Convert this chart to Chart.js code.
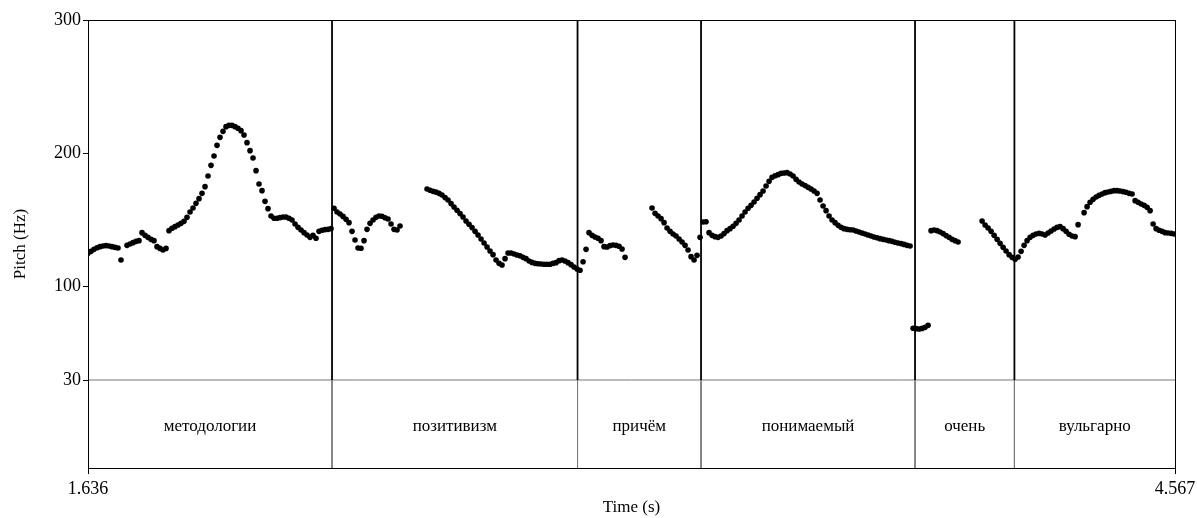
<!DOCTYPE html>
<html>
<head>
<meta charset="utf-8">
<script src="https://cdn.jsdelivr.net/npm/chart.js@4/dist/chart.umd.min.js"></script>
<style>
html,body{margin:0;padding:0;background:#fff;}
#wrap{width:1197px;height:518px;}
</style>
</head>
<body>
<div id="wrap"><canvas id="c" width="1197" height="518"></canvas></div>
<script>
// ---- data ----
const timeMin = 1.636;
const timeMax = 4.567;
const frameStart = 1.636;
const frameStep = 0.00809;
const pitchHz = [
  125,126.5,128,129.2,130,130.5,130.8,130.5,130,129.5,
  129,120,null,131,132,133,134,134.5,140.5,138.5,
  137,135.5,134.5,130,128.7,127.5,128.7,142,143.8,145,
  146.3,147.5,149,152,156,159,162.5,166,170,175,
  183,191,198,206,212,216.5,220,221,221,220,
  218.8,217,213.8,208,202,196.5,187,177,172,164,
  158.5,153,151.3,151.3,151.8,152.3,152.3,151.3,150,147,
  144.5,142.5,140.5,138.7,137,138.5,136.3,141.5,142.3,142.8,
  143,143.5,158.8,156,154.5,152.7,150.5,148,141.5,135,
  129,128.8,134.5,143,147.5,150,152,153,152.8,151.7,
  150.7,147,143,142.5,145.5,null,null,null,null,null,
  null,null,null,173.2,172.3,171.5,170.9,170,168.7,166.8,
  165,162.3,159.8,157.3,154.8,152.3,149.3,146.8,144.3,141.5,
  138.8,135.7,132.7,129.8,126.8,124,120,117.5,116.3,121,
  125.3,125.3,124.5,123.8,123.2,122,121,119.2,118.2,117.5,
  117.2,117,116.8,116.8,116.8,117.5,118,119.5,120,119.3,
  118,116.5,114.8,113.3,112.3,118.7,128,140.5,138.5,137.3,
  136.3,134.5,130,129.8,130.8,131.2,131,130.3,128.3,122,
  null,null,null,null,null,null,null,null,159,155,
  153,151,148,144,141.5,139.5,138,135.8,133.5,131,
  127.5,122.5,120,123.5,137,148.5,148.7,140.5,138.5,137.5,
  137,138,139.8,142,143.5,145.3,147.5,150,153,156,
  158.8,161,163.5,166.3,169,171.8,175.5,179,182,183.2,
  184,185,185.3,185.5,184.5,183,180.5,178.5,177,175.8,
  174.5,173.3,171.8,170,165,160.5,157,153,150,148,
  146,144.5,143.5,143,142.7,142.5,141.8,141,140.3,139.5,
  138.8,138,137.3,136.7,136,135.5,135,134.5,134,133.3,
  132.8,132.3,131.7,131,130.5,68.8,68.5,68.3,68.7,69.5,
  71,142,142.5,142,141,139.8,138.3,137,135.5,134.5,
  133.5,null,null,null,null,null,null,null,149.3,146.3,
  144,141.5,138.5,135.5,132.5,129.5,126.7,124,122,120.5,
  122.3,126.5,131,134.5,137,138.5,139.5,140,139.5,138.8,
  140.3,141.8,143.3,144.5,145,143.5,141.5,139.3,138,137.5,
  146.5,null,155.5,160,163.3,165.5,167.2,168.5,169.5,170.5,
  171,171.5,172,172,171.8,171.3,170.8,170,169.5,164.5,
  163.3,162,161,159.5,157,147,143.5,142.3,141.5,140.5,
  140.2,140,139.5
];
const boundaries = [2.294, 2.956, 3.289, 3.866, 4.134];
const words = ["методологии", "позитивизм", "причём", "понимаемый", "очень", "вульгарно"];
const yTicks = [30, 100, 200, 300];
const pitchTop = 300;
const tierFloor = 30;
const yMin = -36;
const xTicks = [timeMin, timeMax];

// ---- build ----
const FONT = "'Liberation Serif','Times New Roman',serif";
const pitchPoints = [];
pitchHz.forEach((v, i) => { if (v !== null) pitchPoints.push({x: frameStart + i * frameStep, y: v}); });

const datasets = [{
  label: 'pitch', data: pitchPoints, showLine: false,
  pointRadius: 2.8, pointHoverRadius: 2.8, pointBorderWidth: 0,
  backgroundColor: '#000', borderColor: '#000', order: 0
}];
datasets.push({
  label: 'floor', data: [{x: timeMin, y: tierFloor}, {x: timeMax, y: tierFloor}],
  showLine: true, pointRadius: 0, borderColor: '#777', borderWidth: 1, order: 2
});
boundaries.forEach(b => {
  datasets.push({
    label: 'bu', data: [{x: b, y: pitchTop}, {x: b, y: tierFloor}],
    showLine: true, pointRadius: 0, borderColor: '#000', borderWidth: 1.8, order: 1
  });
  datasets.push({
    label: 'bl', data: [{x: b, y: tierFloor}, {x: b, y: yMin}],
    showLine: true, pointRadius: 0, borderColor: '#777', borderWidth: 1, order: 1
  });
});

const tierPlugin = {
  id: 'tier',
  afterDatasetsDraw(chart) {
    const {ctx, chartArea, scales: {x, y}} = chart;
    const edges = [timeMin, ...boundaries, timeMax];
    ctx.save();
    ctx.fillStyle = '#000';
    ctx.font = "17px " + FONT;
    ctx.textAlign = 'center';
    ctx.textBaseline = 'middle';
    const ty = y.getPixelForValue((tierFloor + yMin) / 2) + 3;
    words.forEach((w, i) => {
      const cx = x.getPixelForValue((edges[i] + edges[i + 1]) / 2);
      ctx.fillText(w, cx, ty);
    });
    ctx.strokeStyle = '#000';
    ctx.lineWidth = 1;
    ctx.strokeRect(Math.round(chartArea.left) + 0.5, Math.round(chartArea.top) + 0.5,
      Math.round(chartArea.right - chartArea.left), Math.round(chartArea.bottom - chartArea.top));
    ctx.restore();
  }
};

new Chart(document.getElementById('c'), {
  type: 'scatter',
  data: {datasets},
  options: {
    responsive: false,
    animation: false,
    events: [],
    layout: {autoPadding: false, padding: {top: 20, right: 22, left: 0, bottom: 0}},
    plugins: {legend: {display: false}, tooltip: {enabled: false}},
    scales: {
      x: {
        type: 'linear', min: timeMin, max: timeMax,
        afterBuildTicks: s => { s.ticks = xTicks.map(v => ({value: v})); },
        afterFit: s => { s.height = 50; s.paddingRight = 0; s.paddingLeft = 0; },
        ticks: {callback: v => Number(v).toFixed(3), autoSkip: false, maxRotation: 0, color: '#000',
          font: {family: FONT, size: 18}, padding: 4},
        grid: {display: true, drawOnChartArea: false, drawTicks: true, tickLength: 6, color: '#000'},
        border: {display: true, color: '#000', width: 1},
        title: {display: true, text: 'Time (s)', color: '#000', font: {family: FONT, size: 17},
          padding: {top: 0, bottom: 0}}
      },
      y: {
        type: 'linear', min: yMin, max: pitchTop,
        afterBuildTicks: s => { s.ticks = yTicks.map(v => ({value: v})); },
        afterFit: s => { s.width = 88; s.paddingTop = 0; s.paddingBottom = 0; },
        ticks: {callback: v => String(v), autoSkip: false, color: '#000',
          font: {family: FONT, size: 18}, padding: 2},
        grid: {display: true, drawOnChartArea: false, drawTicks: true, tickLength: 5, color: '#000'},
        border: {display: true, color: '#000', width: 1},
        title: {display: true, text: 'Pitch (Hz)', color: '#000', font: {family: FONT, size: 17},
          padding: {top: 10, bottom: 0}}
      }
    }
  },
  plugins: [tierPlugin]
});
</script>
</body>
</html>
